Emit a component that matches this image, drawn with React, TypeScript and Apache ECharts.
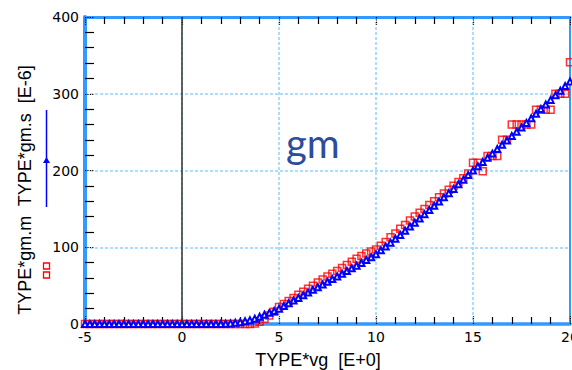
import React, { useEffect, useRef } from "react";
import * as echarts from "echarts";

// sweep of the gate voltage (TYPE*vg), one point per step
const VG_START = -5;
const VG_STEP = 0.25;

// TYPE*gm.m [E-6]  (red squares)
const GM_M = [
  0, 0, 0, 0, 0, 0, 0, 0, 0, 0, 0, 0, 0, 0, 0, 0, 0, 0, 0, 0, 0, 0, 0, 0, 0, 0, 0, 0, 0, 0, 0, 0, 0, 0, 0,
  0.5, 3, 7, 11, 16, 22, 26, 30, 34, 38, 42, 46, 50, 54, 58, 62, 65.5, 69, 73, 77, 81, 85, 88.5, 92, 94.5,
  97, 102, 107, 113, 118, 124, 129, 135, 140, 145, 150, 155, 160, 165, 170, 175, 180, 185, 190, 196,
  210, 210, 199, 219, 219, 219, 240, 240, 260, 260, 260, 260, 260, 279, 279, 279, 279, 300, 300, 300, 341,
];

// TYPE*gm.s [E-6]  (blue triangles)
const GM_S = [
  0, 0, 0, 0, 0, 0, 0, 0, 0, 0, 0, 0, 0, 0, 0, 0, 0, 0, 0, 0, 0, 0, 0, 0, 0, 0, 0, 0, 0,
  0.3, 0.8, 1.5, 2.4, 3.5, 5, 7, 9.5, 12, 14.5, 17, 20, 23.5, 27, 30.5, 34, 37.5, 41, 44.5, 48, 51.5, 55,
  58.5, 62, 65.5, 69, 72.5, 76, 79.5, 83.5, 87, 91, 96, 101, 106, 111, 116, 121.5, 127, 132, 137.5, 143,
  148.5, 154, 159.5, 165, 170.5, 176, 182, 188, 194, 200, 205.5, 211, 216.5, 222, 228, 233.5, 239, 245,
  250.5, 256, 262, 268, 274, 280, 286, 292, 298, 304, 310, 316,
];

const X_MIN = -5;
const X_MAX = 20;
const X_INTERVAL = 5;
const Y_MIN = 0;
const Y_MAX = 400;
const Y_INTERVAL = 100;

const X_NAME = "TYPE*vg  [E+0]";
const Y_NAME = "TYPE*gm.m  TYPE*gm.s  [E-6]";
const NOTE = "gm";

export default function App() {
  const ref = useRef<HTMLDivElement>(null);

  useEffect(() => {
    if (!ref.current) return;
    const chart = echarts.init(ref.current, null, { renderer: "svg" });
    const vgM = GM_M.map((_, i) => VG_START + i * VG_STEP);
    const vgS = GM_S.map((_, i) => VG_START + i * VG_STEP);

    const axisBlue = "#3399ff";
    const gridBlue = "#8fd4fb";
    const labelStyle = {
      fontSize: 14,
      fontFamily: "DejaVu Sans",
      color: "#000",
    };

    chart.setOption({
      animation: false,
      backgroundColor: "#fff",
      grid: { left: 85, right: 2, top: 17, bottom: 46, containLabel: false, outerBoundsMode: "none" },
      xAxis: [
        {
          type: "value",
          min: X_MIN,
          max: X_MAX,
          interval: X_INTERVAL,
          position: "bottom",
          axisLine: { show: true, onZero: false, lineStyle: { color: axisBlue, width: 3.5 } },
          axisTick: { show: true, inside: true, length: 8, lineStyle: { color: "#000", type: "dotted", width: 1.2 } },
          minorTick: { show: true, splitNumber: 5, length: 7, lineStyle: { color: "#000", width: 1.2 } },
          splitLine: { show: true, lineStyle: { color: gridBlue, type: [3, 2], width: 1.5 } },
          axisLabel: { ...labelStyle, margin: 6 },
        },
        {
          type: "value",
          min: X_MIN,
          max: X_MAX,
          interval: X_INTERVAL,
          position: "top",
          axisLine: { show: true, onZero: false, lineStyle: { color: axisBlue, width: 3 } },
          axisTick: { show: true, inside: true, length: 8, lineStyle: { color: "#000", type: "dotted", width: 1.2 } },
          minorTick: { show: true, splitNumber: 5, length: 7, lineStyle: { color: "#000", width: 1.2 } },
          splitLine: { show: false },
          axisLabel: { show: false },
        },
      ],
      yAxis: [
        {
          type: "value",
          min: Y_MIN,
          max: Y_MAX,
          interval: Y_INTERVAL,
          position: "left",
          axisLine: { show: true, onZero: false, lineStyle: { color: axisBlue, width: 4 } },
          axisTick: { show: true, inside: true, length: 9, lineStyle: { color: "#000", type: "dotted", width: 1.2 } },
          minorTick: { show: true, splitNumber: 5, length: 9, lineStyle: { color: "#000", width: 1.2 } },
          splitLine: { show: true, lineStyle: { color: gridBlue, type: [3, 2], width: 1.5 } },
          axisLabel: { ...labelStyle, margin: 6 },
        },
        {
          type: "value",
          min: Y_MIN,
          max: Y_MAX,
          interval: Y_INTERVAL,
          position: "right",
          axisLine: { show: true, onZero: false, lineStyle: { color: axisBlue, width: 2 } },
          axisTick: { show: false },
          splitLine: { show: false },
          axisLabel: { show: false },
        },
      ],
      graphic: [
        {
          type: "text",
          x: 25,
          y: 190,
          rotation: Math.PI / 2,
          style: {
            text: Y_NAME,
            font: '18px "Liberation Sans"',
            fill: "#000",
            align: "center",
            verticalAlign: "middle",
          },
        },
        {
          type: "text",
          x: 318,
          y: 360,
          style: {
            text: X_NAME,
            font: '18px "Liberation Sans"',
            fill: "#000",
            align: "center",
            verticalAlign: "middle",
          },
        },
        {
          type: "text",
          x: 286,
          y: 143,
          z: 10,
          style: {
            text: NOTE,
            font: '40px "Lato"',
            fill: "#2c4c9e",
            align: "left",
            verticalAlign: "middle",
          },
        },
        {
          type: "line",
          shape: { x1: 46.5, y1: 110, x2: 46.5, y2: 207 },
          style: { stroke: "#0000ff", lineWidth: 1.5 },
        },
        {
          type: "polygon",
          shape: { points: [[46.5, 157], [43, 163], [50, 163]] },
          style: { fill: "#0000ff" },
        },
        {
          type: "rect",
          shape: { x: 43.5, y: 263, width: 6, height: 6 },
          style: { fill: "none", stroke: "#ff0000", lineWidth: 1.3 },
        },
        {
          type: "rect",
          shape: { x: 43.5, y: 272, width: 6, height: 6 },
          style: { fill: "none", stroke: "#ff0000", lineWidth: 1.3 },
        },
      ],
      series: [
        {
          name: "TYPE*gm.m",
          type: "scatter",
          xAxisIndex: 0,
          yAxisIndex: 0,
          data: vgM.map((x, i) => [x, GM_M[i]]),
          symbol: "rect",
          symbolSize: 7,
          itemStyle: { color: "rgba(255,255,255,0)", borderColor: "#ff0000", borderWidth: 1.5 },
          z: 3,
          markLine: {
            silent: true,
            symbol: ["none", "none"],
            label: { show: false },
            lineStyle: { color: "#333", width: 1.5, type: "solid" },
            data: [{ xAxis: 0 }],
          },
        },
        {
          name: "TYPE*gm.s",
          type: "line",
          xAxisIndex: 0,
          yAxisIndex: 0,
          data: vgS.map((x, i) => [x, GM_S[i]]),
          symbol: "emptyTriangle",
          symbolSize: 6,
          showAllSymbol: true,
          itemStyle: { color: "#0000ff", borderWidth: 1.5 },
          lineStyle: { color: "#0000ff", width: 1.5 },
          z: 4,
        },
      ],
    });

    return () => chart.dispose();
  }, []);

  return (
    <div
      ref={ref}
      style={{ position: "absolute", left: 0, top: 0, width: 572, height: 370 }}
    />
  );
}
